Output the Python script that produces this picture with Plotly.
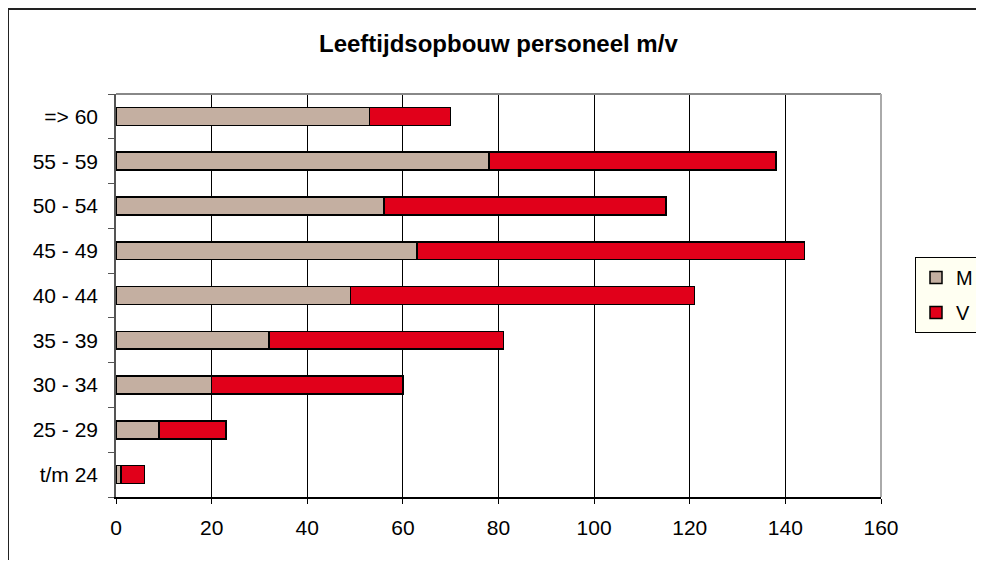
import plotly.graph_objects as go

categories = ["t/m 24", "25 - 29", "30 - 34", "35 - 39", "40 - 44",
              "45 - 49", "50 - 54", "55 - 59", "=> 60"]
men = [1, 9, 20, 32, 49, 63, 56, 78, 53]
women = [5, 14, 40, 49, 72, 81, 59, 60, 17]
x_ticks = [0, 20, 40, 60, 80, 100, 120, 140, 160]

FONT = "Liberation Sans, Arial, sans-serif"

fig = go.Figure()
fig.add_trace(go.Bar(y=categories, x=men, name="M", orientation="h",
                     marker=dict(color="#C4AFA1", line=dict(color="#000000", width=1.5)),
                     legendgroup="M"))
fig.add_trace(go.Bar(y=categories, x=women, name="V", orientation="h",
                     marker=dict(color="#E1001A", line=dict(color="#000000", width=1.5)),
                     legendgroup="V"))

# figure drawn inside the page's 8px body margin
OFF = 8
W, H = 968, 552
L, T = 116 - OFF, 94 - OFF
R = W - (881 - OFF)
B = H - (497 - OFF)
pw, ph = W - L - R, H - T - B


def px_x(v):
    return (v - OFF - L) / pw


def px_y(v):
    return (H - B - (v - OFF)) / ph


fig.update_layout(
    width=W, height=H,
    margin=dict(l=L, r=R, t=T, b=B, autoexpand=False),
    paper_bgcolor="white", plot_bgcolor="white",
    barmode="stack", bargap=0.6,
    font=dict(family=FONT, size=21, color="#000000"),
    showlegend=True,
    legend=dict(x=px_x(915), y=px_y(257), xanchor="left", yanchor="top",
                bgcolor="#FFFFF2", bordercolor="#000000", borderwidth=1,
                font=dict(size=20), tracegroupgap=6, traceorder="grouped",
                itemwidth=30),
    xaxis=dict(range=[0, 160], tickvals=x_ticks, ticks="outside", ticklen=5,
               tickcolor="#000000", showgrid=True, gridcolor="#000000", gridwidth=1,
               showline=True, linecolor="#000000", linewidth=1.5, zeroline=False,
               tickfont=dict(size=21), ticklabelstandoff=6),
    yaxis=dict(type="category", categoryorder="array", categoryarray=categories,
               ticks="outside", ticklen=6, tickson="boundaries", tickcolor="#555555",
               showline=True, linecolor="#555555", linewidth=1.5, showgrid=False,
               tickfont=dict(size=21), ticklabelstandoff=12),
    shapes=[
        dict(type="line", xref="paper", yref="paper", x0=0, x1=1, y0=1, y1=1,
             line=dict(color="#888888", width=2)),
        dict(type="line", xref="paper", yref="paper", x0=1, x1=1, y0=0, y1=1,
             line=dict(color="#AAAAAA", width=2)),
        dict(type="rect", xref="paper", yref="paper",
             x0=px_x(8), x1=px_x(1030), y0=px_y(9), y1=px_y(640),
             line=dict(color="#222222", width=2), layer="below"),
    ],
    annotations=[
        dict(text="<b>Leeftijdsopbouw personeel m/v</b>", xref="paper", yref="paper",
             x=0.5, y=px_y(43), xanchor="center", yanchor="middle", showarrow=False,
             font=dict(size=24, family=FONT)),
    ],
)

fig.write_html("out.html")
